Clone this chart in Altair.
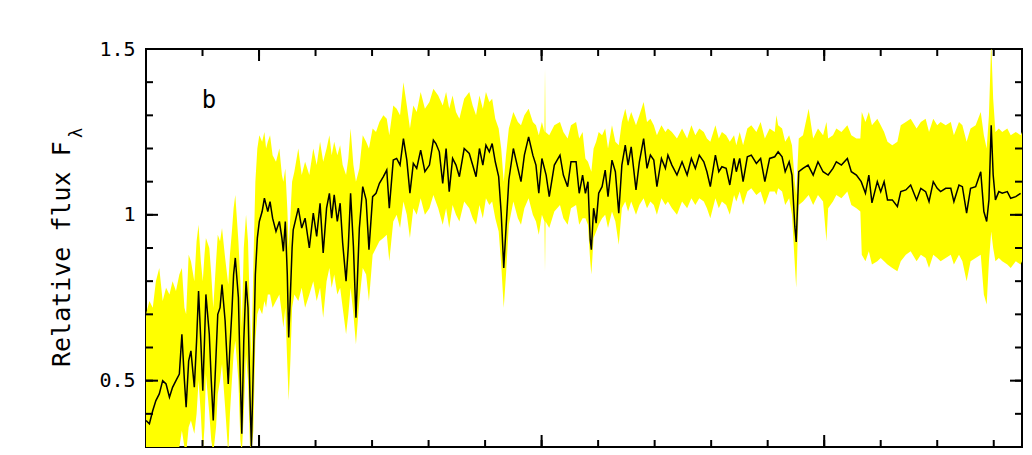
import altair as alt
import pandas as pd

# ---------------- data ----------------
# smoothed spectrum (black line): wavelength (Angstrom) and relative flux
line_wl = [3600, 3612, 3624, 3635, 3647, 3659, 3671, 3683, 3694, 3706, 3718, 3727, 3736, 3742, 3751,
           3759, 3771, 3779, 3786, 3794, 3801, 3807, 3812, 3824, 3831, 3838, 3848, 3854, 3862, 3869,
           3880, 3891, 3897, 3904, 3910, 3916, 3927, 3934, 3939, 3946, 3954, 3961, 3968, 3973, 3980,
           3987, 3994, 4001, 4011, 4019, 4025, 4031, 4039, 4048, 4060, 4072, 4081, 4086, 4093, 4100,
           4105, 4111, 4117, 4121, 4139, 4151, 4163, 4178, 4192, 4204, 4216, 4227, 4239, 4249, 4257,
           4266, 4277, 4287, 4296, 4308, 4316, 4324, 4334, 4343, 4355, 4367, 4379, 4389, 4402, 4414,
           4426, 4440, 4452, 4461, 4475, 4487, 4499, 4511, 4523, 4534, 4546, 4558, 4572, 4587, 4603,
           4617, 4626, 4638, 4650, 4662, 4673, 4685, 4697, 4709, 4726, 4744, 4756, 4768, 4780, 4792,
           4803, 4815, 4825, 4836, 4848, 4857, 4866, 4874, 4884, 4900, 4916, 4927, 4939, 4954, 4969,
           4980, 4990, 5001, 5016, 5027, 5045, 5065, 5077, 5092, 5104, 5122, 5133, 5145, 5155, 5164,
           5172, 5176, 5184, 5193, 5202, 5214, 5225, 5235, 5249, 5261, 5273, 5284, 5296, 5306, 5317,
           5334, 5346, 5361, 5373, 5385, 5397, 5408, 5424, 5438, 5447, 5461, 5479, 5497, 5515, 5530,
           5544, 5558, 5574, 5585, 5597, 5615, 5627, 5638, 5653, 5666, 5681, 5689, 5701, 5713, 5728,
           5742, 5760, 5775, 5790, 5807, 5825, 5837, 5851, 5862, 5876, 5886, 5896, 5901, 5910, 5925,
           5943, 5961, 5978, 5996, 6014, 6031, 6043, 6061, 6082, 6096, 6114, 6131, 6146, 6158, 6169,
           6188, 6200, 6212, 6224, 6241, 6259, 6271, 6289, 6306, 6327, 6342, 6359, 6371, 6386, 6400,
           6412, 6430, 6448, 6459, 6477, 6489, 6504, 6518, 6536, 6554, 6565, 6575, 6583, 6591, 6598,
           6606, 6618, 6630, 6648, 6660, 6678, 6695]
line_flux = [0.38, 0.37, 0.41, 0.44, 0.46, 0.50, 0.49, 0.45, 0.48, 0.50, 0.52, 0.64, 0.50, 0.42, 0.56,
             0.59, 0.48, 0.62, 0.77, 0.62, 0.47, 0.62, 0.76, 0.64, 0.50, 0.38, 0.58, 0.70, 0.72, 0.79,
             0.68, 0.49, 0.60, 0.71, 0.82, 0.87, 0.75, 0.50, 0.34, 0.62, 0.80, 0.72, 0.45, 0.30, 0.55,
             0.82, 0.93, 0.98, 1.01, 1.05, 1.03, 1.01, 1.04, 0.99, 0.95, 0.98, 0.93, 0.89, 0.98, 0.82,
             0.63, 0.76, 0.90, 0.955, 1.02, 0.96, 0.99, 0.90, 1.005, 0.935, 1.035, 0.885, 1.02, 1.065, 0.99,
             1.06, 0.98, 1.035, 0.915, 0.80, 0.905, 1.065, 0.905, 0.69, 0.96, 1.085, 1.045, 0.895, 1.055, 1.065,
             1.095, 1.115, 1.135, 1.02, 1.165, 1.17, 1.15, 1.23, 1.165, 1.065, 1.155, 1.14, 1.195, 1.13, 1.15,
             1.225, 1.215, 1.19, 1.095, 1.20, 1.07, 1.17, 1.15, 1.115, 1.20, 1.185, 1.15, 1.115, 1.20, 1.15,
             1.21, 1.19, 1.215, 1.16, 1.115, 1.005, 0.84, 0.96, 1.105, 1.20, 1.14, 1.10, 1.18, 1.235, 1.18,
             1.15, 1.065, 1.17, 1.12, 1.055, 1.15, 1.18, 1.12, 1.085, 1.16, 1.16, 1.065, 1.12, 1.065, 1.10,
             0.925, 0.895, 1.02, 0.975, 1.065, 1.085, 1.135, 1.055, 1.165, 1.13, 1.005, 1.15, 1.21, 1.15, 1.205,
             1.075, 1.16, 1.23, 1.14, 1.18, 1.165, 1.085, 1.17, 1.14, 1.18, 1.15, 1.12, 1.16, 1.12, 1.17,
             1.14, 1.18, 1.16, 1.13, 1.085, 1.18, 1.13, 1.145, 1.14, 1.09, 1.17, 1.13, 1.17, 1.10, 1.175,
             1.18, 1.155, 1.17, 1.10, 1.17, 1.175, 1.19, 1.175, 1.13, 1.16, 1.12, 0.965, 0.918, 1.13, 1.14,
             1.15, 1.12, 1.16, 1.13, 1.12, 1.14, 1.16, 1.15, 1.17, 1.13, 1.12, 1.10, 1.065, 1.12, 1.036,
             1.10, 1.07, 1.10, 1.045, 1.045, 1.025, 1.07, 1.075, 1.09, 1.045, 1.08, 1.07, 1.04, 1.10, 1.08,
             1.07, 1.08, 1.08, 1.04, 1.09, 1.085, 1.005, 1.08, 1.085, 1.13, 1.01, 0.98, 1.045, 1.27, 1.12,
             1.045, 1.07, 1.065, 1.07, 1.05, 1.055, 1.065]

# individual noisy spectra (yellow band): wavelength, upper and lower envelope
band_wl = [3600, 3612, 3624, 3635, 3647, 3659, 3671, 3683, 3694, 3706, 3718, 3727, 3736, 3742, 3751,
           3759, 3771, 3779, 3786, 3794, 3801, 3807, 3812, 3824, 3831, 3838, 3848, 3854, 3862, 3869,
           3880, 3891, 3897, 3904, 3910, 3916, 3927, 3934, 3939, 3946, 3954, 3961, 3968, 3973, 3980,
           3987, 3994, 4001, 4011, 4019, 4025, 4031, 4039, 4048, 4060, 4072, 4081, 4086, 4093, 4100,
           4105, 4111, 4117, 4125, 4139, 4151, 4163, 4178, 4192, 4204, 4216, 4227, 4239, 4249, 4257,
           4266, 4277, 4287, 4296, 4308, 4316, 4324, 4334, 4343, 4355, 4367, 4379, 4389, 4402, 4414,
           4426, 4440, 4452, 4461, 4475, 4487, 4499, 4511, 4523, 4534, 4546, 4558, 4572, 4587, 4603,
           4617, 4634, 4650, 4662, 4673, 4685, 4697, 4709, 4726, 4744, 4756, 4768, 4780, 4792, 4803,
           4815, 4825, 4836, 4848, 4857, 4866, 4874, 4884, 4900, 4916, 4927, 4939, 4954, 4969, 4980,
           4990, 5001, 5010, 5012, 5014, 5027, 5045, 5065, 5077, 5092, 5104, 5122, 5133, 5145, 5155,
           5164, 5172, 5176, 5184, 5193, 5202, 5214, 5225, 5235, 5249, 5261, 5273, 5284, 5296, 5306,
           5317, 5334, 5346, 5361, 5373, 5385, 5397, 5408, 5424, 5438, 5447, 5461, 5479, 5497, 5515,
           5530, 5544, 5558, 5574, 5585, 5597, 5615, 5627, 5638, 5653, 5666, 5681, 5689, 5701, 5713,
           5728, 5742, 5760, 5775, 5790, 5807, 5825, 5831, 5837, 5851, 5862, 5876, 5886, 5896, 5901,
           5910, 5925, 5945, 5961, 5978, 5996, 6008, 6014, 6031, 6043, 6061, 6082, 6096, 6114, 6128,
           6133, 6146, 6158, 6169, 6188, 6200, 6212, 6224, 6241, 6259, 6271, 6289, 6306, 6327, 6342,
           6359, 6371, 6386, 6400, 6412, 6430, 6448, 6459, 6477, 6489, 6504, 6518, 6536, 6554, 6565,
           6575, 6583, 6591, 6598, 6606, 6618, 6630, 6648, 6660, 6678, 6695, 6700]
band_hi = [0.70, 0.74, 0.72, 0.80, 0.84, 0.74, 0.78, 0.76, 0.80, 0.77, 0.82, 0.84, 0.72, 0.70, 0.88,
           0.86, 0.80, 0.92, 0.97, 0.86, 0.80, 0.88, 0.93, 0.90, 0.82, 0.72, 0.86, 0.94, 0.92, 0.96,
           0.87, 0.79, 0.88, 0.95, 1.02, 1.06, 0.92, 0.80, 0.66, 0.90, 1.00, 0.92, 0.70, 0.56, 0.85,
           1.10, 1.20, 1.24, 1.22, 1.25, 1.20, 1.22, 1.24, 1.18, 1.16, 1.20, 1.12, 1.10, 1.14, 1.02,
           0.90, 1.00, 1.10, 1.13, 1.20, 1.12, 1.16, 1.12, 1.20, 1.15, 1.22, 1.16, 1.20, 1.24, 1.18,
           1.22, 1.18, 1.21, 1.15, 1.12, 1.17, 1.26, 1.15, 1.10, 1.14, 1.24, 1.22, 1.20, 1.26, 1.25,
           1.28, 1.30, 1.29, 1.24, 1.33, 1.32, 1.30, 1.40, 1.33, 1.26, 1.33, 1.31, 1.37, 1.32, 1.34,
           1.38, 1.36, 1.33, 1.37, 1.32, 1.36, 1.31, 1.29, 1.35, 1.37, 1.33, 1.30, 1.36, 1.32, 1.37,
           1.34, 1.35, 1.29, 1.26, 1.20, 1.10, 1.18, 1.26, 1.31, 1.28, 1.27, 1.30, 1.32, 1.28, 1.27,
           1.24, 1.28, 1.25, 1.44, 1.25, 1.24, 1.27, 1.28, 1.25, 1.23, 1.27, 1.28, 1.23, 1.25, 1.17,
           1.16, 1.14, 1.13, 1.20, 1.22, 1.25, 1.24, 1.26, 1.20, 1.27, 1.22, 1.21, 1.28, 1.32, 1.28,
           1.31, 1.27, 1.30, 1.34, 1.28, 1.29, 1.27, 1.24, 1.27, 1.25, 1.26, 1.25, 1.23, 1.26, 1.23,
           1.27, 1.24, 1.26, 1.25, 1.23, 1.22, 1.27, 1.23, 1.25, 1.24, 1.22, 1.24, 1.21, 1.25, 1.21,
           1.26, 1.27, 1.25, 1.28, 1.23, 1.26, 1.25, 1.30, 1.27, 1.26, 1.22, 1.24, 1.21, 1.10, 1.06,
           1.23, 1.24, 1.32, 1.23, 1.26, 1.24, 1.28, 1.23, 1.24, 1.26, 1.25, 1.27, 1.24, 1.23, 1.23,
           1.31, 1.28, 1.31, 1.27, 1.29, 1.27, 1.25, 1.22, 1.21, 1.22, 1.27, 1.28, 1.29, 1.26, 1.28,
           1.29, 1.25, 1.29, 1.27, 1.28, 1.27, 1.28, 1.24, 1.28, 1.27, 1.22, 1.26, 1.27, 1.31, 1.24,
           1.20, 1.30, 1.52, 1.35, 1.25, 1.26, 1.25, 1.26, 1.24, 1.25, 1.24, 1.25]
band_lo = [0.28, 0.28, 0.28, 0.28, 0.28, 0.28, 0.28, 0.28, 0.28, 0.28, 0.30, 0.35, 0.30, 0.28, 0.36,
           0.38, 0.34, 0.40, 0.50, 0.40, 0.28, 0.36, 0.52, 0.40, 0.32, 0.28, 0.36, 0.46, 0.50, 0.55,
           0.42, 0.28, 0.40, 0.50, 0.58, 0.62, 0.50, 0.32, 0.28, 0.40, 0.58, 0.50, 0.30, 0.28, 0.35,
           0.62, 0.70, 0.72, 0.70, 0.74, 0.72, 0.76, 0.76, 0.72, 0.74, 0.76, 0.70, 0.66, 0.72, 0.55,
           0.44, 0.56, 0.72, 0.76, 0.74, 0.78, 0.72, 0.76, 0.80, 0.74, 0.78, 0.69, 0.80, 0.84, 0.78,
           0.82, 0.76, 0.78, 0.72, 0.64, 0.70, 0.78, 0.70, 0.61, 0.74, 0.84, 0.82, 0.74, 0.88, 0.90,
           0.92, 0.93, 0.94, 0.86, 0.98, 1.00, 0.96, 1.04, 1.00, 0.93, 1.02, 1.00, 1.05, 1.00, 1.02,
           1.06, 1.02, 0.97, 1.02, 0.96, 1.03, 1.00, 0.98, 1.04, 1.02, 0.99, 0.97, 1.03, 0.99, 1.05,
           1.03, 1.04, 0.99, 0.95, 0.85, 0.72, 0.82, 0.97, 1.04, 0.99, 0.97, 1.02, 1.05, 1.00, 0.98,
           0.94, 1.00, 0.98, 0.83, 0.98, 0.96, 1.01, 1.03, 0.99, 0.97, 1.02, 1.03, 0.97, 0.99, 0.99,
           0.97, 0.86, 0.82, 0.93, 0.95, 0.97, 0.99, 1.00, 0.96, 1.01, 0.98, 0.91, 1.02, 1.04, 1.01,
           1.04, 1.00, 1.03, 1.05, 1.02, 1.04, 1.03, 1.00, 1.05, 1.03, 1.04, 1.02, 1.00, 1.04, 1.02,
           1.05, 1.03, 1.05, 1.04, 1.02, 0.99, 1.05, 1.02, 1.04, 1.03, 1.00, 1.06, 1.04, 1.07, 1.03,
           1.07, 1.08, 1.06, 1.07, 1.03, 1.07, 1.07, 1.06, 1.08, 1.07, 1.03, 1.05, 1.00, 0.85, 0.78,
           1.03, 1.04, 1.06, 1.03, 1.06, 1.04, 0.92, 1.02, 1.04, 1.06, 1.05, 1.07, 1.03, 1.02, 1.01,
           0.88, 0.86, 0.89, 0.85, 0.86, 0.87, 0.86, 0.85, 0.84, 0.83, 0.86, 0.88, 0.89, 0.86, 0.88,
           0.87, 0.84, 0.88, 0.87, 0.86, 0.87, 0.88, 0.85, 0.88, 0.86, 0.80, 0.86, 0.87, 0.88, 0.76,
           0.73, 0.86, 0.95, 0.90, 0.86, 0.87, 0.86, 0.85, 0.84, 0.86, 0.85, 0.86]

y_labels = [0.5, 1.0, 1.5]
y_minor = [0.4, 0.5, 0.6, 0.7, 0.8, 0.9, 1.0, 1.1, 1.2, 1.3, 1.4]
y_major = [0.5, 1.0]
x_minor = [3800, 4000, 4200, 4400, 4600, 4800, 5000, 5200, 5400, 5600, 5800, 6000, 6200, 6400, 6600]
x_major = [4000, 5000, 6000]

y_title = "Relative flux F"
y_title_sub = "λ"
panel_label = "b"

# ---------------- chart ----------------
W, H = 876, 398
FONT = "DejaVu Sans Mono"

line_df = pd.DataFrame({"wl": line_wl, "flux": line_flux})
band_df = pd.DataFrame({"wl": band_wl, "hi": band_hi, "lo": band_lo})

xs = alt.Scale(domain=[3600, 6700], nice=False, zero=False)
ys = alt.Scale(domain=[0.3, 1.5], nice=False, zero=False)
yax = alt.Axis(values=y_labels, format="~g", ticks=False, tickSize=0, domain=False, grid=False,
               labelFont=FONT, labelFontSize=20, labelColor="black", labelPadding=11, title=None)

band = alt.Chart(band_df).mark_area(color="#ffff00", clip=True, opacity=1).encode(
    x=alt.X("wl:Q", scale=xs, axis=None),
    y=alt.Y("hi:Q", scale=ys, axis=yax),
    y2="lo:Q",
)
line = alt.Chart(line_df).mark_line(color="black", strokeWidth=1.5, clip=True).encode(
    x=alt.X("wl:Q", scale=xs, axis=None),
    y=alt.Y("flux:Q", scale=ys, axis=yax),
)

def ytick(vals, x0, x1):
    return alt.Chart(pd.DataFrame({"v": vals})).mark_rule(color="black", strokeWidth=2).encode(
        y=alt.Y("v:Q", scale=ys, axis=yax), x=alt.value(x0), x2=alt.value(x1))

def xtick(vals, y0, y1):
    return alt.Chart(pd.DataFrame({"v": vals})).mark_rule(color="black", strokeWidth=2).encode(
        x=alt.X("v:Q", scale=xs, axis=None), y=alt.value(y0), y2=alt.value(y1))

ticks = [
    ytick(y_minor, 0, 7), ytick(y_major, 0, 12),
    ytick(y_minor, W - 7, W), ytick(y_major, W - 12, W),
    xtick(x_minor, 0, 7), xtick(x_major, 0, 12),
    xtick(x_minor, H - 7, H), xtick(x_major, H - 12, H),
]

title = alt.Chart(pd.DataFrame({"t": [y_title]})).mark_text(
    angle=270, align="left", baseline="alphabetic", font=FONT, fontSize=25, color="black"
).encode(text="t:N", x=alt.value(-76), y=alt.value(318))

title_sub = alt.Chart(pd.DataFrame({"t": [y_title_sub]})).mark_text(
    angle=270, align="left", baseline="alphabetic", font=FONT, fontSize=17, color="black"
).encode(text="t:N", x=alt.value(-64), y=alt.value(89))

label_b = alt.Chart(pd.DataFrame({"t": [panel_label]})).mark_text(
    align="center", baseline="alphabetic", font=FONT, fontSize=24, color="black"
).encode(text="t:N", x=alt.value(63), y=alt.value(59))

chart = alt.layer(band, line, *ticks, title, title_sub, label_b).properties(
    width=W, height=H,
    padding={"left": 138, "top": 41, "right": 2, "bottom": 2},
    autosize=alt.AutoSizeParams(type="none"),
).configure_view(stroke="black", strokeWidth=2)

chart.save("out.html", embed_options={"renderer": "svg", "actions": False})
